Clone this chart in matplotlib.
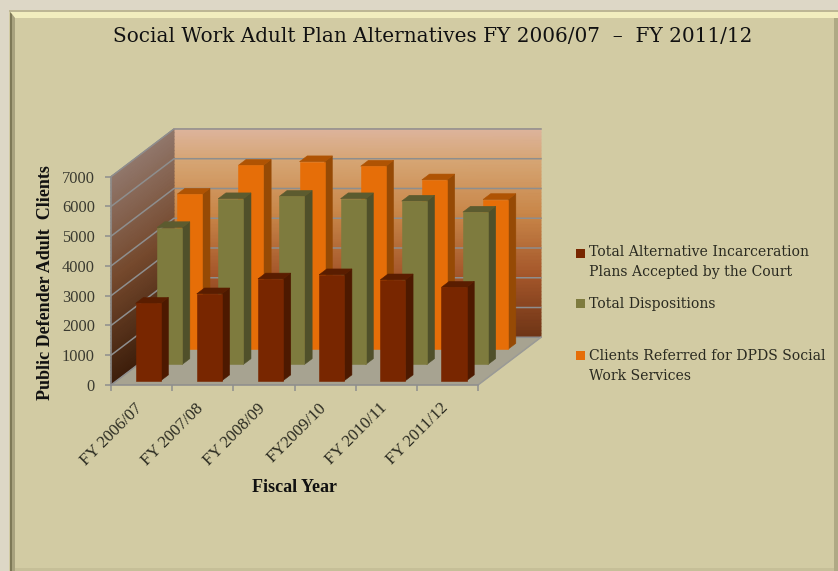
import numpy as np
from matplotlib import pyplot as plt
from matplotlib.colors import LinearSegmentedColormap
from matplotlib.patches import Rectangle

categories = ['FY 2006/07', 'FY 2007/08', 'FY 2008/09', 'FY2009/10', 'FY 2010/11', 'FY 2011/12']
plans_accepted = [2600, 2920, 3420, 3560, 3390, 3140]
dispositions = [4600, 5570, 5650, 5570, 5490, 5120]
clients_referred = [5210, 6180, 6300, 6150, 5690, 5030]
value_ticks = [0, 1000, 2000, 3000, 4000, 5000, 6000, 7000]

W, H = 838, 571

# oblique offset of the far wall, in category widths and value units
DEPTH_X = 1.03
DEPTH_V = 1604
BAR_GAP = 0.31
BAR_WIDTH = 0.41
BAR_DEPTH = 0.122

SERIF = ['Liberation Serif', 'DejaVu Serif']


def project(x, v, d):
    return x + d * DEPTH_X, v + d * DEPTH_V


def face(ax, corners, color, z):
    pts = [project(*c) for c in corners]
    ax.fill([p[0] for p in pts], [p[1] for p in pts], facecolor=color, edgecolor=color,
            lw=0.4, zorder=z, clip_on=False)


def bar(ax, i, value, d0, colors, z):
    x0 = i + BAR_GAP
    x1 = x0 + BAR_WIDTH
    d1 = d0 + BAR_DEPTH
    front, top, side = colors
    face(ax, [(x1, 0, d0), (x1, 0, d1), (x1, value, d1), (x1, value, d0)], side, z)
    face(ax, [(x0, value, d0), (x1, value, d0), (x1, value, d1), (x0, value, d1)], top, z)
    face(ax, [(x0, 0, d0), (x1, 0, d0), (x1, value, d0), (x0, value, d0)], front, z)


def wall(ax, x0, x1, d0, d1, cmap):
    # gradient quad, sheared along with the wall
    vs = np.linspace(0, 7000, 60)
    ts = np.array([0.0, 1.0])
    xx = np.outer(np.ones_like(vs), x0 + ts * (x1 - x0))
    dd = np.outer(np.ones_like(vs), d0 + ts * (d1 - d0))
    vv = np.outer(vs, np.ones_like(ts))
    px, py = project(xx, vv, dd)
    ax.pcolormesh(px, py, vv, cmap=cmap, vmin=0, vmax=7000, shading='gouraud', zorder=1, clip_on=False)


fig = plt.figure(figsize=(W / 100, H / 100), dpi=100, facecolor='#DDD7C6')

# page frame and bevelled panel
bg = fig.add_axes([0, 0, 1, 1], zorder=0)
bg.set_xlim(0, W)
bg.set_ylim(H, 0)
bg.axis('off')
bg.add_patch(Rectangle((9, 10), 829, 561, color='#D2CBA3', lw=0))
bg.add_patch(Rectangle((9, 10), 829, 2, color='#BDB694', lw=0))
bg.fill([10, 838, 838, 15], [12, 12, 18, 18], color='#F2EDBE', lw=0)
bg.fill([10, 12, 12, 10], [12, 14, 571, 571], color='#7E7957', lw=0)
bg.fill([12, 15, 15, 12], [14, 18, 571, 571], color='#A8A27E', lw=0)
bg.add_patch(Rectangle((834, 18), 4, 553, color='#AFA985', lw=0))
bg.add_patch(Rectangle((15, 568), 819, 3, color='#C6BF98', lw=0))

ax = fig.add_axes([111 / W, 1 - 385 / H, 367 / W, 208.3 / H], zorder=1)
ax.patch.set_visible(False)
ax.set_xlim(0, 6)
ax.set_ylim(0, 7000)

back_cmap = LinearSegmentedColormap.from_list('back', [(0, '#6E3416'), (0.3, '#A4562A'), (0.6, '#C98749'),
                                                       (0.85, '#D6A574'), (1, '#DDB49C')])
side_cmap = LinearSegmentedColormap.from_list('side', [(0, '#3D1E0B'), (0.5, '#75492D'), (1, '#91776B')])
wall(ax, 0, 6, 1, 1, back_cmap)
wall(ax, 0, 0, 0, 1, side_cmap)
face(ax, [(0, 0, 0), (6, 0, 0), (6, 0, 1), (0, 0, 1)], '#A7A391', 2)

grid = '#8E8E8E'
for v in value_ticks:
    xs, ys = project(np.array([0, 0, 6]), v, np.array([0, 1, 1]))
    ax.plot(xs, ys, color=grid, lw=1.1, zorder=3, clip_on=False)
xs, ys = project(np.array([6, 6]), 0, np.array([0, 1]))
ax.plot(xs, ys, color='#9A9A96', lw=1.1, zorder=3, clip_on=False)

# far row first so nearer bars sit on top
rows = [(clients_referred, 0.75, ('#E66E08', '#AF5303', '#964A05')),
        (dispositions, 0.43, ('#7E7B3E', '#5C5B2F', '#50502A')),
        (plans_accepted, 0.09, ('#782600', '#5A1D00', '#4D1900'))]
z = 4
for values, depth, colors in rows:
    for i, v in enumerate(values):
        bar(ax, i, v, depth, colors, z)
    z += 1

for s in ('top', 'right'):
    ax.spines[s].set_visible(False)
for s in ('left', 'bottom'):
    ax.spines[s].set_color(grid)
    ax.spines[s].set_linewidth(1.1)
    ax.spines[s].set_zorder(10)

ax.set_yticks(value_ticks)
ax.set_xticks(range(7))
ax.set_xticklabels([])
ax.tick_params(axis='y', length=4, width=1.1, color=grid, labelsize=11.8, labelcolor='#3A3A30', pad=7.5)
ax.tick_params(axis='x', length=4, width=1.1, color=grid)
for label in ax.get_yticklabels():
    label.set_family(SERIF)

for i, name in enumerate(categories):
    ax.annotate(name, xy=(i + 0.5, 0), xycoords=('data', 'axes fraction'), xytext=(-5, -11), textcoords='offset points',
                rotation=45, ha='right', va='top', rotation_mode='anchor', family=SERIF, fontsize=12.2, color='#2A2A20')

fig.text(433 / W, 1 - 36 / H, 'Social Work Adult Plan Alternatives FY 2006/07  –  FY 2011/12', ha='center', va='center',
         family='DejaVu Serif', fontsize=14.4, color='#111111')
fig.text(45 / W, 1 - 283 / H, 'Public Defender Adult  Clients', rotation=90, ha='center', va='center',
         family=SERIF, fontsize=13, fontweight='bold', color='#111111')
fig.text(294 / W, 1 - 488 / H, 'Fiscal Year', ha='center', va='center',
         family=SERIF, fontsize=13, fontweight='bold', color='#111111')

# legend keeps the layout of the side panel
legend = [('#782600', 253.5, 262, 'Total Alternative Incarceration\nPlans Accepted by the Court'),
          ('#7E7B3E', 303.5, 304, 'Total Dispositions'),
          ('#E66E08', 355.5, 366, 'Clients Referred for DPDS Social\nWork Services')]
for color, key_y, text_y, text in legend:
    bg.add_patch(Rectangle((575.5, key_y - 4.5), 9, 9, color=color, lw=0))
    bg.text(589, text_y, text, va='center', ha='left', family='DejaVu Serif', fontsize=10.05,
            color='#2A2A20', linespacing=1.5)

fig.savefig('out.png', dpi=100)
